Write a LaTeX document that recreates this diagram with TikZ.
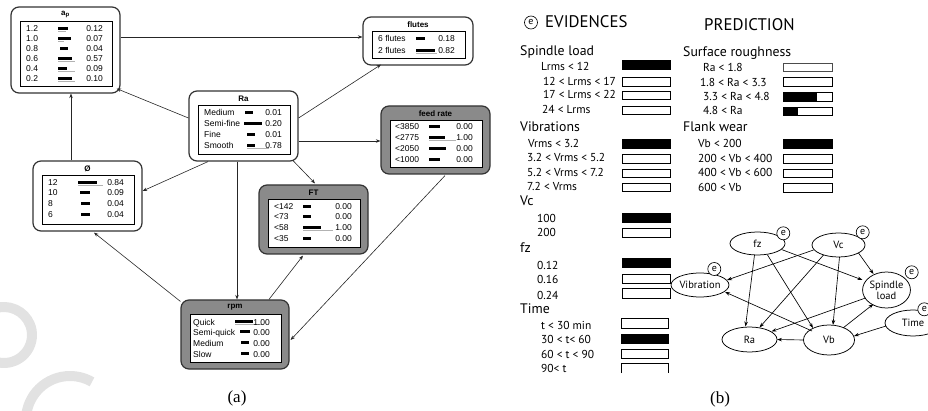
\documentclass[tikz,border=0pt]{standalone}
\usepackage{fontspec}
\setmainfont{Liberation Serif}
\setsansfont{Liberation Sans}
\newfontfamily\ptsans{PT Sans}
\usetikzlibrary{fit,shapes.geometric,arrows.meta,calc}
\definecolor{boxgray}{RGB}{138,138,138}
\definecolor{wmgray}{RGB}{226,226,226}
\tikzset{
  outerbox/.style={draw=black!80, line width=1.2pt, rounded corners=8pt, inner sep=0pt},
  inbox/.style={draw=black, line width=0.9pt, fill=white},
  btitle/.style={font=\sffamily\bfseries\fontsize{8}{9}\selectfont, inner sep=0pt},
  blab/.style={font=\sffamily\fontsize{8.5}{10}\selectfont, anchor=west, inner sep=0pt, text height=6pt, text depth=0pt},
  bval/.style={font=\sffamily\fontsize{8.5}{10}\selectfont, anchor=east, inner sep=0pt, text height=6pt, text depth=0pt},
  conn/.style={draw=black!85, line width=0.6pt, -{Stealth[length=4.5pt,width=3.5pt]}},
  evh/.style={font=\ptsans\fontsize{16.8}{19}\selectfont, anchor=west, inner sep=0pt},
  evs/.style={font=\ptsans\fontsize{13.8}{15}\selectfont, anchor=west, inner sep=0pt, text height=9.5pt, text depth=2.8pt},
  evi/.style={font=\ptsans\fontsize{11.5}{12}\selectfont, anchor=west, inner sep=0pt, text height=8pt, text depth=0pt},
  ell/.style={ellipse, draw, line width=0.75pt, fill=white, inner sep=0pt, font=\ptsans\fontsize{10.5}{11}\selectfont, align=center},
  ecirc/.style={circle, draw, line width=0.65pt, fill=white, inner sep=0pt, minimum size=13pt, font=\ptsans\fontsize{10}{10}\selectfont},
  narr/.style={draw=black, line width=0.65pt, -{Stealth[length=5pt,width=3.5pt]}},
  wm/.style={draw=wmgray, line width=10pt},
  captext/.style={font=\fontsize{17}{19}\selectfont, inner sep=0pt}
}
% name, x1, y1, x2, y2, fill, title
\newcommand\bnbox[7]{%
  \node[outerbox, fill=#6, fit={(#2,#3) (#4,#5)}] (#1) {};
  \path[inbox] ({#2+9},{#3+14.5}) rectangle ({#4-8},{#5-6.5});
  \node[btitle] (#1-t) at ({(#2+#4)/2},{#3+7.5}) {#7};
}
% id, y, labx, label, barx, barlen, greylen, valx, value
\newcommand\bnrow[9]{%
  \node[blab] (#1-l) at (#3,#2) {#4};
  \fill[black] (#5,{#2-1.6}) rectangle ({#5+#6},{#2+1.2});
  \ifdim #7pt>0pt \draw[gray!60, line width=0.9pt] (#5,{#2+2.7}) -- ({#5+#7},{#2+2.7});\fi
  \node[bval] (#1-v) at (#8,#2) {#9};
}
% x1 y1 x2 y2 fillx
\newcommand\evbox[5]{%
  \ifdim #5pt>#1pt \fill[black] (#1,#2) rectangle (#5,#4);\fi
  \draw[line width=0.9pt] (#1,#2) rectangle (#3,#4);
}
\begin{document}
\begin{tikzpicture}[x=1pt,y=-1pt]
\useasboundingbox (0,0) rectangle (928,411);
% watermark
\draw[wm] ($(4,335)+(-100:28)$) arc[start angle=-100, end angle=100, radius=28];
\draw[wm] ($(70,420)+(175:44)$) arc[start angle=175, end angle=300, radius=44];

% ---------------- (a) ----------------
\bnbox{ap}{11}{7}{120}{93}{white}{a\textsubscript{p}}
\bnrow{ap1}{29}{26}{1.2}{58}{10}{8}{103}{0.12}
\bnrow{ap2}{39}{26}{1.0}{58}{13}{6}{103}{0.07}
\bnrow{ap3}{49}{26}{0.8}{60}{8}{0}{103}{0.04}
\bnrow{ap4}{59}{26}{0.6}{58}{14}{17}{103}{0.57}
\bnrow{ap5}{69}{26}{0.4}{58}{9}{17}{103}{0.09}
\bnrow{ap6}{79}{26}{0.2}{58}{14}{17}{103}{0.10}

\bnbox{fl}{363}{17}{473}{65}{white}{flutes}
\bnrow{fl1}{39}{378}{6 flutes}{416}{9}{0}{455}{0.18}
\bnrow{fl2}{51}{378}{2 flutes}{416}{19}{21}{455}{0.82}

\bnbox{ra}{189}{91}{298}{161}{white}{Ra}
\bnrow{ra1}{113}{204}{Medium}{245}{8}{0}{282}{0.01}
\bnrow{ra2}{124}{204}{Semi-fine}{244}{18}{0}{282}{0.20}
\bnrow{ra3}{135}{204}{Fine}{247}{8}{0}{282}{0.01}
\bnrow{ra4}{146}{204}{Smooth}{247}{8}{22}{282}{0.78}

\bnbox{fr}{381}{106}{490}{174}{boxgray}{feed rate}
\bnrow{fr1}{127}{395}{<3850}{429}{11}{0}{473}{0.00}
\bnrow{fr2}{138}{395}{<2775}{429}{16}{27}{473}{1.00}
\bnrow{fr3}{149}{395}{<2050}{429}{17}{0}{473}{0.00}
\bnrow{fr4}{160}{395}{<1000}{429}{11}{0}{473}{0.00}

\bnbox{ft}{259}{185}{368}{254}{boxgray}{FT}
\bnrow{ft1}{207}{274}{<142}{303}{8}{0}{352}{0.00}
\bnrow{ft2}{217}{274}{<73}{303}{8}{0}{352}{0.00}
\bnrow{ft3}{228}{274}{<58}{303}{18}{30}{352}{1.00}
\bnrow{ft4}{239}{274}{<35}{303}{8}{0}{352}{0.00}

\bnbox{ph}{33}{161}{142}{231}{white}{Ø}
\bnrow{ph1}{183}{48}{12}{78}{19}{25}{124}{0.84}
\bnrow{ph2}{193}{48}{10}{80}{10}{0}{124}{0.09}
\bnrow{ph3}{204}{48}{8}{81}{9}{0}{124}{0.04}
\bnrow{ph4}{215}{48}{6}{81}{9}{0}{124}{0.04}

\bnbox{rp}{181}{300}{289}{369}{boxgray}{rpm}
\bnrow{rp1}{322}{193}{Quick}{235}{18}{28}{270}{1.00}
\bnrow{rp2}{332}{193}{Semi-quick}{240}{10}{0}{270}{0.00}
\bnrow{rp3}{343}{193}{Medium}{241}{8}{0}{270}{0.00}
\bnrow{rp4}{354}{193}{Slow}{241}{8}{0}{270}{0.00}

% connectors (a)
\draw[conn] ($(ap.east)+(0,-13)$) -- ($(fl.west)+(0,-4)$);
\draw[conn] ($(ra.west)+(0,-8)$) -- ($(ap.south east)+(-4,-5)$);
\draw[conn] ($(ph.north)+(-16.5,0)$) -- ($(ap.south)+(5.5,0)$);
\draw[conn] ($(ra.east)+(0,-8)$) -- ($(fl.south)+(-37,-1)$);
\draw[conn] ($(ra.east)+(0,15)$) -- ($(fr.west)+(0,1)$);
\draw[conn] ($(ra.south)+(49.5,-1)$) -- ($(ft.north)+(1.5,-1)$);
\draw[conn] ($(ra.south)+(-35.5,0)$) -- ($(ph.east)+(0,-5)$);
\draw[conn] ($(ra.south)+(-6.5,0)$) -- ($(rp.north)+(2,0)$);
\draw[conn] ($(rp.north west)+(0,2)$) -- ($(ph.south)+(6.5,1)$);
\draw[conn] ($(rp.north)+(34,0)$) -- ($(ft.south)+(-10.5,1)$);
\draw[conn] ($(fr.south)+(9.5,1)$) -- ($(rp.east)+(1,5.5)$);

\node[captext] (capa) at (237,398) {(a)};
\node[captext] (capb) at (720,399) {(b)};

% ---------------- (b) ----------------
\node[ecirc] (ehead) at (531,22.5) {e};
\node[evh] (hev) at (545,22) {EVIDENCES};
\node[evh] (hpr) at (704,25) {PREDICTION};

\node[evs] (s1) at (520,52) {Spindle load};
\node[evi] (i11) at (541,67) {Lrms < 12};
\node[evi] (i12) at (543,82) {12 < Lrms < 17};
\node[evi] (i13) at (543,95) {17 < Lrms < 22};
\node[evi] (i14) at (542,110) {24 < Lrms};
\evbox{622}{60}{670}{69}{670}
\evbox{622}{77}{670}{86}{622}
\evbox{622}{91}{670}{99}{622}
\evbox{622}{106}{670}{114}{622}

\node[evs] (s2) at (520,128) {Vibrations};
\node[evi] (i21) at (528,144) {Vrms < 3.2};
\node[evi] (i22) at (527,158) {3.2 < Vrms < 5.2};
\node[evi] (i23) at (527,173) {5.2 < Vrms < 7.2};
\node[evi] (i24) at (527,187) {7.2 < Vrms};
\evbox{622}{139}{670}{148}{670}
\evbox{622}{154}{670}{163}{622}
\evbox{622}{169}{670}{177}{622}
\evbox{622}{183}{670}{191}{622}

\node[evs] (s3) at (520,202) {Vc};
\node[evi] (i31) at (537,219) {100};
\node[evi] (i32) at (537,233) {200};
\evbox{622}{213}{670}{222}{670}
\evbox{622}{228}{670}{237}{622}

\node[evs] (s4) at (520,249) {fz};
\node[evi] (i41) at (537,266) {0.12};
\node[evi] (i42) at (537,280) {0.16};
\node[evi] (i43) at (537,295) {0.24};
\evbox{622}{258}{670}{267}{670}
\evbox{622}{274}{670}{283}{622}
\evbox{622}{288}{670}{298}{622}

\node[evs] (s5) at (520,310) {Time};
\node[evi] (i51) at (541,326) {t < 30 min};
\node[evi] (i52) at (541,339) {30 < t< 60};
\node[evi] (i53) at (541,354) {60 < t < 90};
\node[evi] (i54) at (541,368) {90< t};
\evbox{621}{318}{668}{328}{621}
\evbox{621}{334}{668}{343}{668}
\evbox{621}{349}{668}{358}{621}
\draw[line width=0.9pt] (621,373) -- (621,363) -- (668,363) -- (668,373);

\node[evs] (s6) at (683,53) {Surface roughness};
\node[evi] (p11) at (703,68) {Ra < 1.8};
\node[evi] (p12) at (700,83) {1.8 < Ra < 3.3};
\node[evi] (p13) at (703,97) {3.3 < Ra < 4.8};
\node[evi] (p14) at (703,111) {4.8 < Ra};
\draw[line width=0.6pt, draw=black!70] (783,63) rectangle (832,71);
\evbox{783}{77}{832}{86}{783}
\evbox{783}{92}{832}{101}{817}
\evbox{783}{107}{832}{115}{798}

\node[evs] (s7) at (683,128) {Flank wear};
\node[evi] (p21) at (698,144) {Vb < 200};
\node[evi] (p22) at (698,159) {200 < Vb < 400};
\node[evi] (p23) at (698,173) {400 < Vb < 600};
\node[evi] (p24) at (698,188) {600 < Vb};
\evbox{783}{139}{832}{148}{832}
\evbox{783}{154}{832}{163}{783}
\evbox{783}{169}{832}{177}{783}
\evbox{783}{183}{832}{192}{783}

% network
\node[ell, minimum width=55pt, minimum height=23pt] (nfz) at (757.5,243.5) {fz};
\node[ell, minimum width=53pt, minimum height=24pt] (nvc) at (838.5,245) {Vc};
\node[ell, minimum width=54pt, minimum height=24pt] (nvib) at (700,285) {Vibration};
\node[ell, minimum width=47pt, minimum height=36pt] (nsp) at (886.5,290) {Spindle\\load};
\node[ell, minimum width=56pt, minimum height=26pt] (ntime) at (913,323) {Time};
\node[ell, minimum width=55pt, minimum height=25pt] (nra) at (749.5,339.5) {Ra};
\node[ell, minimum width=51pt, minimum height=30pt] (nvb) at (829,340) {Vb};

\draw[narr] ($(nfz)+(-3,11.5)$) -- ($(nra)+(-4,-13)$);
\draw[narr] ($(nfz)+(10,11.5)$) -- ($(nvb)+(-16,-12)$);
\draw[narr] ($(nfz)+(24,6)$) -- ($(nsp)+(-24,-10)$);
\draw[narr] ($(nvc)+(-25,5)$) -- ($(nvib)+(27,-5)$);
\draw[narr] ($(nvc)+(-15,10)$) -- ($(nra)+(10,-12)$);
\draw[narr] ($(nvc)+(1,12)$) -- ($(nvb)+(4,-15)$);
\draw[narr] ($(nvc)+(20,8)$) -- ($(nsp)+(-13,-16)$);
\draw[narr] ($(nvb)+(-17,-9)$) -- ($(nvib)+(25,7)$);
\draw[narr] ($(nsp)+(-21,8)$) -- ($(nra)+(22,-8)$);
\draw[narr] ($(nvb)+(14,-12)$) -- ($(nsp)+(-13,14)$);
\draw[narr] ($(nvb)+(-25.5,0)$) -- ($(nra)+(27.5,0)$);
\draw[narr] ($(ntime)+(-27,3)$) -- ($(nvb)+(25,-4)$);

\node[ecirc] (efz) at (783.3,233.3) {e};
\node[ecirc] (evc) at (862.7,232.3) {e};
\node[ecirc] (evib) at (714.3,269) {e};
\node[ecirc] (esp) at (911.7,272.3) {e};
\node[ecirc] (etime) at (924.3,309.3) {e};
\end{tikzpicture}
\end{document}
